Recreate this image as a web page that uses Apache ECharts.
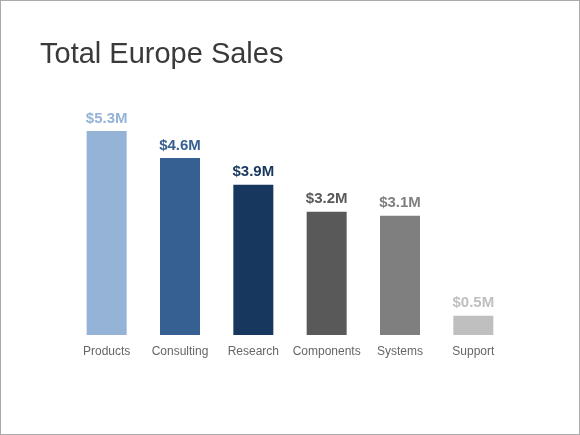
<!DOCTYPE html>
<html>
<head>
<meta charset="utf-8">
<script src="https://cdn.jsdelivr.net/npm/echarts@6/dist/echarts.min.js"></script>
<style>
  html, body { margin: 0; padding: 0; background: #fff; }
  #chart { width: 580px; height: 435px; box-sizing: border-box; border: 1px solid #aaaaaa; }
</style>
</head>
<body>
<div id="chart"></div>
<script>
const categories = ["Products", "Consulting", "Research", "Components", "Systems", "Support"];
const sales = [5.3, 4.6, 3.9, 3.2, 3.1, 0.5];
const barColors = ["#95b3d7", "#376092", "#17375e", "#595959", "#7f7f7f", "#bfbfbf"];

const chart = echarts.init(document.getElementById("chart"));

chart.setOption({
  animation: false,
  title: {
    text: "Total Europe Sales",
    left: 39,
    top: 39,
    padding: 0,
    textStyle: {
      fontFamily: "Liberation Sans",
      fontSize: 29,
      fontWeight: "normal",
      color: "#3a3a3a"
    }
  },
  grid: {
    left: 69,
    right: 69,
    top: 103,
    bottom: 99
  },
  xAxis: {
    type: "category",
    data: categories,
    axisLine: { show: false },
    axisTick: { show: false },
    axisLabel: {
      interval: 0,
      margin: 11,
      fontFamily: "Liberation Sans",
      fontSize: 12,
      color: "#666666"
    }
  },
  yAxis: {
    type: "value",
    min: 0,
    max: 6,
    show: false
  },
  series: [
    {
      type: "bar",
      barWidth: 40,
      data: sales.map((v, i) => ({
        value: v,
        itemStyle: { color: barColors[i] },
        label: { color: barColors[i] }
      })),
      label: {
        show: true,
        position: "top",
        distance: 5,
        fontFamily: "Liberation Sans",
        fontSize: 15,
        fontWeight: "bold",
        formatter: p => "$" + p.value.toFixed(1) + "M"
      }
    }
  ]
});

window.addEventListener("resize", () => chart.resize());
</script>
</body>
</html>
